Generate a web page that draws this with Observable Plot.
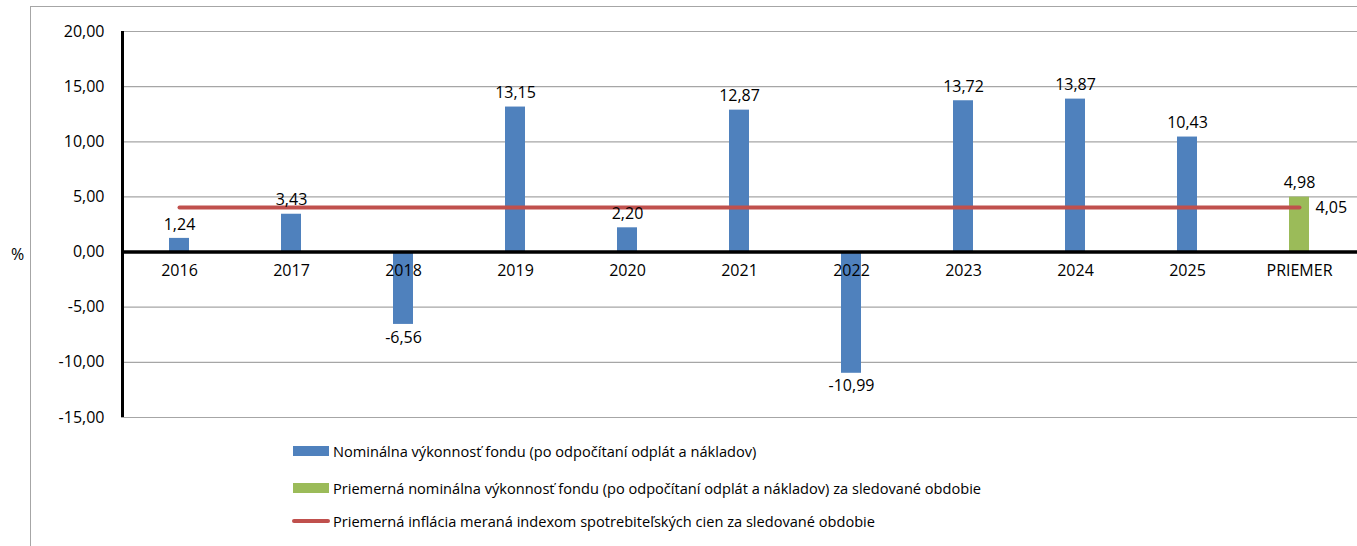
<!DOCTYPE html>
<html>
<head>
<meta charset="utf-8">
<script src="https://cdn.jsdelivr.net/npm/d3@7"></script>
<script src="https://cdn.jsdelivr.net/npm/@observablehq/plot@0.6"></script>
<style>
  html, body { margin: 0; padding: 0; background: #fff; }
  body { width: 1357px; height: 546px; position: relative; overflow: hidden; font-family: "Open Sans", sans-serif; }
  #frame { position: absolute; left: 30px; top: 6px; right: 0; bottom: 0; border-left: 1px solid #a6a6a6; border-top: 1px solid #a6a6a6; }
  #chart { position: absolute; left: 0; top: 0; }
  #pct { position: absolute; left: 11px; top: 243px; font-size: 16px; color: #000; }
  #legend { position: absolute; left: 292px; top: 440px; font-size: 14.6px; color: #000; }
  .item { position: absolute; left: 0; white-space: nowrap; display: flex; align-items: center; height: 20px; }
  .sw { width: 36px; height: 10px; margin-right: 4px; }
  .ln { width: 38px; height: 4px; border-radius: 2px; margin-right: 3px; }
</style>
</head>
<body>
<div id="frame"></div>
<div id="chart"></div>
<div id="pct">%</div>
<div id="legend"></div>
<script>
const categories = ["2016", "2017", "2018", "2019", "2020", "2021", "2022", "2023", "2024", "2025", "PRIEMER"];
const performance = [1.24, 3.43, -6.56, 13.15, 2.20, 12.87, -10.99, 13.72, 13.87, 10.43, null];
const averagePerformance = 4.98;
const averageInflation = 4.05;
const yTicks = [-15, -10, -5, 0, 5, 10, 15, 20];
const legendLabels = [
  "Nominálna výkonnosť fondu (po odpočítaní odplát a nákladov)",
  "Priemerná nominálna výkonnosť fondu (po odpočítaní odplát a nákladov) za sledované obdobie",
  "Priemerná inflácia meraná indexom spotrebiteľských cien za sledované obdobie"
];

const blue = "#4F81BD", green = "#9BBB59", red = "#C0504D", grid = "#a6a6a6";
const fmt = v => d3.format(".2f")(v).replace("\u2212", "-").replace(".", ",");

const bars = categories.slice(0, 10).map((c, i) => ({cat: c, value: performance[i], kind: "year"}));
bars.push({cat: "PRIEMER", value: averagePerformance, kind: "avg"});
const inflationLine = [{cat: categories[0], value: averageInflation}, {cat: categories[categories.length - 1], value: averageInflation}];

const leftAxisLine = (index, scales, values, dims) => {
  const g = d3.create("svg:line")
    .attr("x1", dims.marginLeft + 1.5).attr("x2", dims.marginLeft + 1.5)
    .attr("y1", scales.y(yTicks[yTicks.length - 1])).attr("y2", scales.y(yTicks[0]))
    .attr("stroke", "#000").attr("stroke-width", 3);
  return g.node();
};

const chart = Plot.plot({
  width: 1357,
  height: 440,
  marginLeft: 121,
  marginRight: 0,
  marginTop: 31,
  marginBottom: 23,
  style: {fontFamily: "Open Sans, sans-serif", fontSize: "16px", color: "#000", background: "transparent"},
  x: {domain: categories, padding: 0, axis: null},
  y: {domain: [-15, 20], axis: null},
  marks: [
    Plot.ruleY(yTicks.filter(t => t !== 0), {stroke: grid, strokeWidth: 1.2}),
    Plot.barY(bars, {x: "cat", y: "value", fill: d => d.kind === "avg" ? green : blue, insetLeft: 46, insetRight: 46}),
    Plot.ruleY([0], {stroke: "#000", strokeWidth: 3.5}),
    leftAxisLine,
    Plot.lineY(inflationLine, {x: "cat", y: "value", stroke: red, strokeWidth: 4}),
    Plot.text(yTicks, {y: d => d, frameAnchor: "left", dx: -17, text: d => fmt(d), textAnchor: "end", fontSize: 16}),
    Plot.text(categories, {x: d => d, y: () => 0, dy: 19, text: d => d, fontSize: 16}),
    Plot.text(bars.filter(d => d.value >= 0), {x: "cat", y: "value", dy: -14, text: d => fmt(d.value), fontSize: 16}),
    Plot.text(bars.filter(d => d.value < 0), {x: "cat", y: "value", dy: 13, text: d => fmt(d.value), fontSize: 16}),
    Plot.text([inflationLine[1]], {x: "cat", y: "value", dx: 16, textAnchor: "start", text: d => fmt(d.value), fontSize: 16})
  ]
});
document.getElementById("chart").appendChild(chart);

const legend = document.getElementById("legend");
const tops = [1, 38, 71];
legendLabels.forEach((label, i) => {
  const item = document.createElement("div");
  item.className = "item";
  item.style.top = tops[i] + "px";
  const sw = document.createElement("span");
  if (i < 2) { sw.className = "sw"; sw.style.background = i === 0 ? blue : green; sw.style.marginLeft = "1px"; }
  else { sw.className = "ln"; sw.style.background = red; }
  item.appendChild(sw);
  const t = document.createElement("span");
  t.textContent = label;
  item.appendChild(t);
  legend.appendChild(item);
});
</script>
</body>
</html>
